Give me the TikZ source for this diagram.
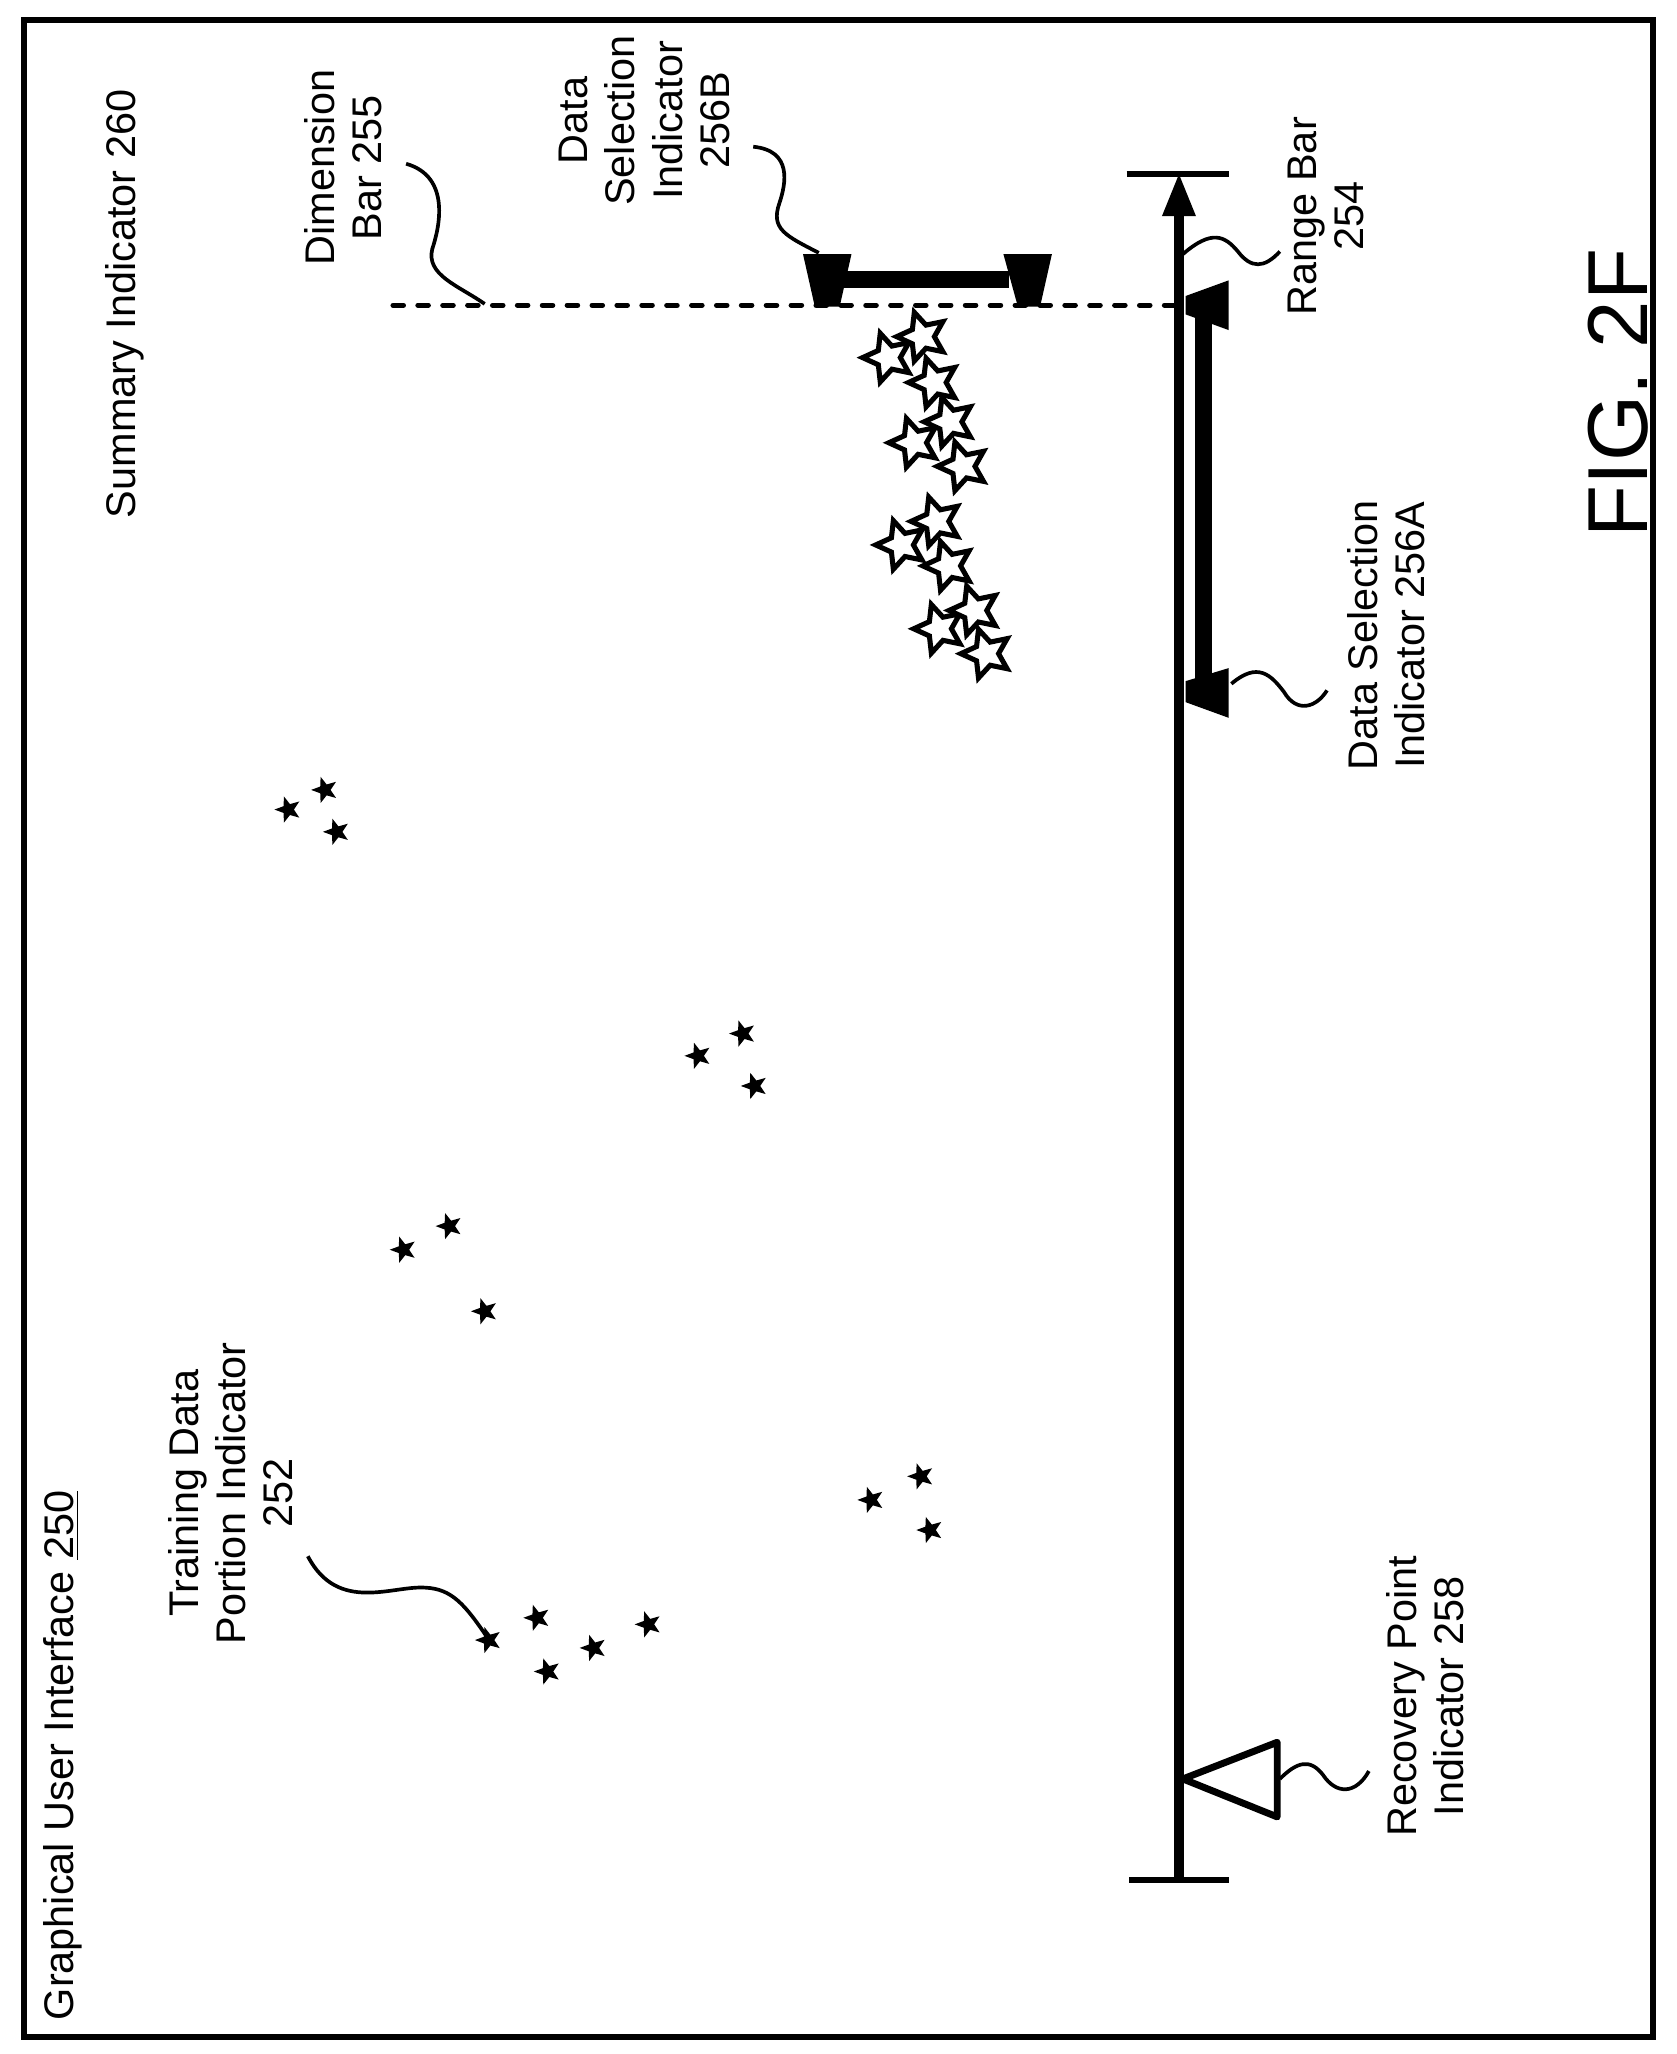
\documentclass[tikz,border=0pt]{standalone}
\usepackage{fontspec}
\setmainfont{Liberation Sans}
\usetikzlibrary{shapes.geometric}
\tikzset{
  label text/.style={rotate=90, align=center, font=\fontsize{18}{20.5}\selectfont, inner sep=0},
  dot/.style={star, star points=5, star point ratio=2.4, shape border rotate=90, fill=black, inner sep=0, minimum size=0.42cm},
  hollow/.style={star, star points=5, star point ratio=2.1, shape border rotate=90, draw, fill=white, line width=2.2pt, inner sep=0, minimum size=0.78cm},
  lead/.style={line width=1.6pt},
}
\begin{document}
\begin{tikzpicture}[x=0.02cm, y=-0.02cm]
  \useasboundingbox (0,0) rectangle (1280,1568);
  % Frame
  \draw[line width=2.6pt] (18,15) rectangle (1262,1555);
  \node[rotate=90, font=\fontsize{37}{40}\selectfont, inner sep=0] (fig) at (1235,300) {FIG. 2F};

  % Labels
  \node[label text] (gui) at (48,1340) {Graphical User Interface \underline{250}};
  \node[label text] (summary) at (95,232) {Summary Indicator 260};
  \node[label text] (dimlbl) at (262,128) {Dimension\\Bar 255};
  \node[label text] (selBlbl) at (492,92) {Data\\Selection\\Indicator\\256B};
  \node[label text] (rangelbl) at (1012,165) {Range Bar\\254};
  \node[label text] (selAlbl) at (1058,485) {Data Selection\\Indicator 256A};
  \node[label text] (recovlbl) at (1088,1295) {Recovery Point\\Indicator 258};
  \node[label text] (trainlbl) at (176,1140) {Training Data\\Portion Indicator\\252};

  % Range bar 254
  \coordinate (rtop) at (900,133);
  \coordinate (rbot) at (900,1435);
  \draw[line width=4pt] (900,160) -- (rbot);
  \draw[line width=2.6pt] (860,133) -- (938,133);
  \draw[line width=2.6pt] (862,1435) -- (938,1435);
  \fill (rtop) -- (913,165) -- (887,165) -- cycle;

  % Dimension bar 255
  \draw[line width=2.2pt, line cap=round, dash pattern=on 0.16cm off 0.22cm] (300,233) -- (898,233);

  % Data selection indicator 256B
  \fill (613,194) -- (650,194) -- (641,234) -- (622,234) -- cycle;
  \fill (766,194) -- (803,194) -- (794,234) -- (777,234) -- cycle;
  \fill (640,207) rectangle (770,220);

  % Data selection indicator 256A
  \fill (912,238) rectangle (925,525);
  \fill (905,226) -- (938,214) -- (938,252) -- (905,240) -- cycle;
  \fill (905,520) -- (938,510) -- (938,548) -- (905,536) -- cycle;

  % Recovery point indicator 258
  \draw[line width=3pt, line join=round] (903,1358) -- (975,1330) -- (975,1387) -- cycle;

  % Training data portion stars
  \foreach \px/\py in {373/1252, 410/1235, 418/1276, 453/1258, 495/1240,
                       665/1145, 703/1127, 710/1168,
                       308/954, 343/936, 370/1001,
                       533/806, 567/789, 576/829,
                       220/618, 248/603, 257/635}
    \node[dot] at (\px,\py) {};
  \coordinate (trainstar) at (372,1250);

  % Summary stars
  \foreach \px/\py in {678/273, 704/257, 713/292, 698/338, 725/322, 735/356,
                       688/416, 715/398, 724/432, 717/480, 744/466, 753/499}
    \node[hollow] at (\px,\py) {};

  % Lead lines
  \coordinate (trainstart) at (235,1188);
  \coordinate (dimend) at (370,232);
  \coordinate (selBend) at (625,193);
  \coordinate (rangeend) at (903,194);
  \coordinate (selAend) at (940,522);
  \coordinate (recovend) at (977,1358);
  \draw[lead] (trainstart) .. controls (258,1232) and (300,1210) .. (325,1212) .. controls (345,1213) and (355,1225) .. (trainstar);
  \draw[lead] (310,125) .. controls (345,135) and (335,175) .. (330,190) .. controls (325,210) and (350,218) .. (dimend);
  \draw[lead] (575,112) .. controls (605,115) and (600,140) .. (595,155) .. controls (588,175) and (600,180) .. (selBend);
  \draw[lead] (rangeend) .. controls (925,175) and (935,180) .. (945,192) .. controls (955,205) and (965,205) .. (977,192);
  \draw[lead] (selAend) .. controls (960,505) and (970,515) .. (980,528) .. controls (990,545) and (1005,540) .. (1013,527);
  \draw[lead] (recovend) .. controls (990,1345) and (1000,1342) .. (1010,1355) .. controls (1020,1370) and (1035,1370) .. (1045,1352);
\end{tikzpicture}
\end{document}
